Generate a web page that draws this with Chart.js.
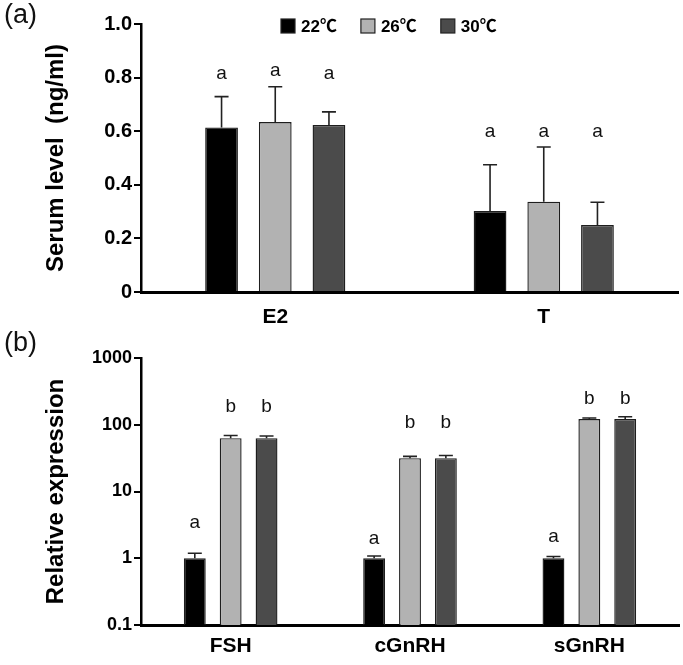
<!DOCTYPE html>
<html>
<head>
<meta charset="utf-8">
<script src="https://cdn.jsdelivr.net/npm/chart.js@4.4.1/dist/chart.umd.min.js"></script>
<style>
html, body { margin: 0; padding: 0; background: #fff; }
#wrap { position: relative; width: 683px; height: 665px; overflow: hidden; }
.panel { position: absolute; left: 0; width: 683px; }
#panelA { top: 0; height: 335px; }
#panelB { top: 335px; height: 330px; }
.tag { position: absolute; left: 4px; font: 27px 'Liberation Sans', Arial, sans-serif; line-height: 28px; color: #111; }
</style>
</head>
<body>
<div id="wrap">
  <div class="panel" id="panelA"><canvas id="serumChart"></canvas></div>
  <div class="panel" id="panelB"><canvas id="exprChart"></canvas></div>
  <div class="tag" style="top:0px">(a)</div>
  <div class="tag" style="top:328px">(b)</div>
</div>
<script>
// temperaturas
const groups = ['22℃', '26℃', '30℃'];
const groupColors = ['#000000', '#b2b2b2', '#4b4b4b'];

// (a) hormonio no soro
const hormones = ['E2', 'T'];
const serum22 = [0.614, 0.302];
const serum26 = [0.634, 0.337];
const serum30 = [0.623, 0.250];
const serumSd22 = [0.115, 0.173];
const serumSd26 = [0.132, 0.204];
const serumSd30 = [0.049, 0.085];
const serumLetters = ['a', 'a'];
const serumLetterY22 = [0.814, 0.598];
const serumLetterY26 = [0.826, 0.598];
const serumLetterY30 = [0.814, 0.598];
const serumTicks = [0, 0.2, 0.4, 0.6, 0.8, 1.0];

// (b) expressao relativa
const genes = ['FSH', 'cGnRH', 'sGnRH'];
const expr22 = [1.0, 1.0, 1.0];
const expr26 = [63, 31.6, 122];
const expr30 = [63, 31.6, 122];
const exprSd22 = [0.19, 0.08, 0.06];
const exprSd26 = [6, 2, 4];
const exprSd30 = [5, 3, 10];
const exprLetters22 = ['a', 'a', 'a'];
const exprLetters26 = ['b', 'b', 'b'];
const exprLetters30 = ['b', 'b', 'b'];
const exprLetterY22 = [3.4, 1.93, 2.07];
const exprLetterY26 = [184, 106, 245];
const exprLetterY30 = [184, 106, 245];
const exprTicks = [0.1, 1, 10, 100, 1000];

const FONT = "'Liberation Sans', Arial, 'Noto Sans CJK SC', sans-serif";

// barras de erro e letras
const errorBarPlugin = {
    id: 'errorBars',
    afterDatasetsDraw(chart) {
        const ctx = chart.ctx;
        const yScale = chart.scales.y;
        ctx.save();
        chart.data.datasets.forEach((ds, i) => {
            const meta = chart.getDatasetMeta(i);
            meta.data.forEach((bar, j) => {
                const top = yScale.getPixelForValue(ds.data[j] + ds.errors[j]);
                ctx.strokeStyle = '#222';
                ctx.lineWidth = 1.6;
                ctx.beginPath();
                ctx.moveTo(bar.x, bar.y);
                ctx.lineTo(bar.x, top);
                ctx.moveTo(bar.x - 7, top);
                ctx.lineTo(bar.x + 7, top);
                ctx.stroke();

                ctx.fillStyle = '#111';
                ctx.font = '19px ' + FONT;
                ctx.textAlign = 'center';
                ctx.textBaseline = 'middle';
                ctx.fillText(ds.letters[j], bar.x, yScale.getPixelForValue(ds.letterY[j]));
            });
        });
        ctx.restore();
    }
};

// legenda dentro da area do grafico
const insideLegendPlugin = {
    id: 'insideLegend',
    afterDraw(chart, args, opts) {
        const ctx = chart.ctx;
        ctx.save();
        ctx.font = 'bold 17px ' + FONT;
        ctx.textBaseline = 'middle';
        ctx.textAlign = 'left';
        let x = opts.x;
        chart.data.datasets.forEach(ds => {
            ctx.fillStyle = ds.backgroundColor;
            ctx.fillRect(x, opts.y - 7, 14, 14);
            ctx.strokeStyle = '#222';
            ctx.lineWidth = 1.2;
            ctx.strokeRect(x, opts.y - 7, 14, 14);
            ctx.fillStyle = '#000';
            ctx.fillText(ds.label, x + 20, opts.y + 1);
            x += 20 + ctx.measureText(ds.label).width + 24;
        });
        ctx.restore();
    }
};

function makeDatasets(values, sds, letters, letterYs) {
    return groups.map((g, i) => ({
        label: g,
        data: values[i],
        errors: sds[i],
        letters: letters[i],
        letterY: letterYs[i],
        backgroundColor: groupColors[i],
        borderColor: '#1e1e1e',
        borderWidth: 1.4,
        categoryPercentage: 0.6,
        barPercentage: 0.61
    }));
}

function axisY(titleText, tickFont) {
    return {
        afterFit: s => { s.width = 141; },
        grid: { drawOnChartArea: false, drawTicks: true, tickLength: 7, color: '#000', lineWidth: 2 },
        border: { color: '#000', width: 2.5 },
        ticks: { color: '#000', font: { family: FONT, size: tickFont, weight: 'bold' }, padding: 2 },
        title: {
            display: true, text: titleText, color: '#000',
            font: { family: FONT, size: 24, weight: 'bold' },
            padding: { top: 42, bottom: 0 }
        }
    };
}

function axisX(height, pad) {
    return {
        afterFit: s => { s.height = height; },
        grid: { display: false, drawTicks: false },
        border: { color: '#000', width: 3 },
        ticks: { color: '#000', font: { family: FONT, size: 21, weight: 'bold' }, padding: pad }
    };
}

function initSerumChart() {
    const ctx = document.getElementById('serumChart').getContext('2d');
    const yOpts = axisY('Serum level  (ng/ml)', 20);
    yOpts.min = 0;
    yOpts.max = 1;
    yOpts.afterBuildTicks = s => { s.ticks = serumTicks.map(v => ({ value: v })); };
    yOpts.ticks.callback = v => v === 0 ? '0' : v.toFixed(1);

    new Chart(ctx, {
        type: 'bar',
        data: {
            labels: hormones,
            datasets: makeDatasets(
                [serum22, serum26, serum30],
                [serumSd22, serumSd26, serumSd30],
                [serumLetters, serumLetters, serumLetters],
                [serumLetterY22, serumLetterY26, serumLetterY30]
            )
        },
        options: {
            responsive: true,
            maintainAspectRatio: false,
            animation: false,
            layout: { padding: { top: 24, right: 5, left: 0, bottom: 0 } },
            plugins: {
                legend: { display: false },
                tooltip: { enabled: false },
                insideLegend: { x: 281, y: 26 }
            },
            scales: { x: axisX(43, 13), y: yOpts }
        },
        plugins: [errorBarPlugin, insideLegendPlugin]
    });
}

function initExprChart() {
    const ctx = document.getElementById('exprChart').getContext('2d');
    const yOpts = axisY('Relative expression', 18);
    yOpts.type = 'logarithmic';
    yOpts.min = 0.1;
    yOpts.max = 1000;
    yOpts.afterBuildTicks = s => { s.ticks = exprTicks.map(v => ({ value: v })); };
    yOpts.ticks.callback = v => String(v);

    new Chart(ctx, {
        type: 'bar',
        data: {
            labels: genes,
            datasets: makeDatasets(
                [expr22, expr26, expr30],
                [exprSd22, exprSd26, exprSd30],
                [exprLetters22, exprLetters26, exprLetters30],
                [exprLetterY22, exprLetterY26, exprLetterY30]
            )
        },
        options: {
            responsive: true,
            maintainAspectRatio: false,
            animation: false,
            layout: { padding: { top: 23, right: 4, left: 0, bottom: 0 } },
            plugins: {
                legend: { display: false },
                tooltip: { enabled: false }
            },
            scales: { x: axisX(40, 9), y: yOpts }
        },
        plugins: [errorBarPlugin]
    });
}

initSerumChart();
initExprChart();
</script>
</body>
</html>
